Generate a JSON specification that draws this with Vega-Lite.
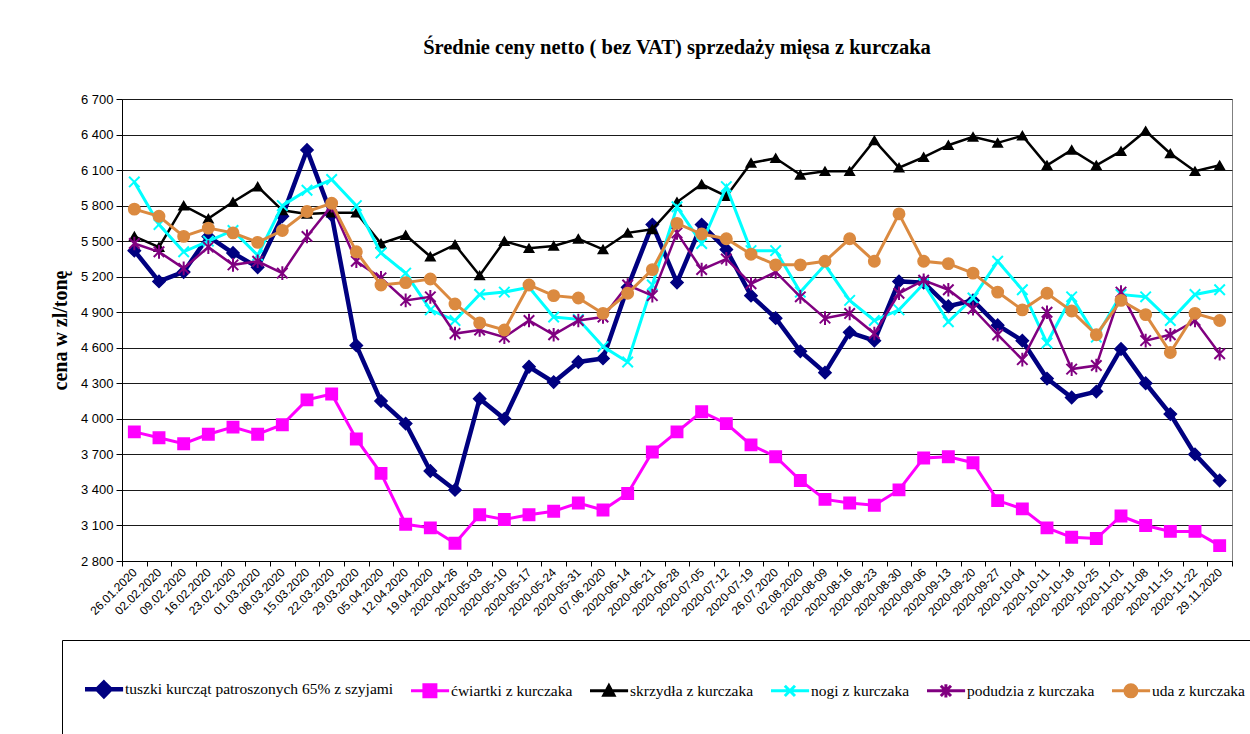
{
  "$schema": "https://vega.github.io/schema/vega-lite/v6.json",
  "width": 1110,
  "height": 462,
  "autosize": {"type": "none"},
  "padding": {"left": 122, "top": 99, "right": 18, "bottom": 173},
  "background": "white",
  "title": {
    "text": "Średnie ceny netto ( bez VAT) sprzedaży mięsa z kurczaka",
    "font": "Liberation Serif",
    "fontSize": 20.5,
    "fontWeight": "bold",
    "color": "black",
    "anchor": "middle",
    "offset": 35
  },
  "config": {
    "view": {"stroke": "#808080", "strokeWidth": 1},
    "legend": {
      "orient": "none",
      "legendX": -60,
      "legendY": 541,
      "direction": "horizontal",
      "columns": 6,
      "columnPadding": 11,
      "padding": 20,
      "strokeColor": "black",
      "fillColor": "white",
      "labelFont": "Liberation Serif",
      "labelFontSize": 15.5,
      "labelColor": "black",
      "labelLimit": 0,
      "labelOffset": 0,
      "symbolSize": 3600
    }
  },
  "data": {
    "values": [
      {"d": "26.01.2020", "tuszki kurcząt patroszonych 65% z szyjami": 5420, "ćwiartki z kurczaka": 3890, "skrzydła z kurczaka": 5540, "nogi z kurczaka": 6000, "podudzia z kurczaka": 5480, "uda z kurczaka": 5770},
      {"d": "02.02.2020", "tuszki kurcząt patroszonych 65% z szyjami": 5160, "ćwiartki z kurczaka": 3840, "skrzydła z kurczaka": 5450, "nogi z kurczaka": 5640, "podudzia z kurczaka": 5410, "uda z kurczaka": 5710},
      {"d": "09.02.2020", "tuszki kurcząt patroszonych 65% z szyjami": 5240, "ćwiartki z kurczaka": 3790, "skrzydła z kurczaka": 5800, "nogi z kurczaka": 5410, "podudzia z kurczaka": 5270, "uda z kurczaka": 5540},
      {"d": "16.02.2020", "tuszki kurcząt patroszonych 65% z szyjami": 5540, "ćwiartki z kurczaka": 3870, "skrzydła z kurczaka": 5690, "nogi z kurczaka": 5500, "podudzia z kurczaka": 5450, "uda z kurczaka": 5610},
      {"d": "23.02.2020", "tuszki kurcząt patroszonych 65% z szyjami": 5400, "ćwiartki z kurczaka": 3930, "skrzydła z kurczaka": 5830, "nogi z kurczaka": 5590, "podudzia z kurczaka": 5300, "uda z kurczaka": 5570},
      {"d": "01.03.2020", "tuszki kurcząt patroszonych 65% z szyjami": 5280, "ćwiartki z kurczaka": 3870, "skrzydła z kurczaka": 5960, "nogi z kurczaka": 5380, "podudzia z kurczaka": 5330, "uda z kurczaka": 5490},
      {"d": "08.03.2020", "tuszki kurcząt patroszonych 65% z szyjami": 5710, "ćwiartki z kurczaka": 3950, "skrzydła z kurczaka": 5760, "nogi z kurczaka": 5800, "podudzia z kurczaka": 5230, "uda z kurczaka": 5590},
      {"d": "15.03.2020", "tuszki kurcząt patroszonych 65% z szyjami": 6270, "ćwiartki z kurczaka": 4160, "skrzydła z kurczaka": 5730, "nogi z kurczaka": 5930, "podudzia z kurczaka": 5540, "uda z kurczaka": 5750},
      {"d": "22.03.2020", "tuszki kurcząt patroszonych 65% z szyjami": 5720, "ćwiartki z kurczaka": 4210, "skrzydła z kurczaka": 5740, "nogi z kurczaka": 6020, "podudzia z kurczaka": 5800, "uda z kurczaka": 5820},
      {"d": "29.03.2020", "tuszki kurcząt patroszonych 65% z szyjami": 4620, "ćwiartki z kurczaka": 3830, "skrzydła z kurczaka": 5740, "nogi z kurczaka": 5800, "podudzia z kurczaka": 5330, "uda z kurczaka": 5410},
      {"d": "05.04.2020", "tuszki kurcząt patroszonych 65% z szyjami": 4150, "ćwiartki z kurczaka": 3540, "skrzydła z kurczaka": 5480, "nogi z kurczaka": 5400, "podudzia z kurczaka": 5190, "uda z kurczaka": 5130},
      {"d": "12.04.2020", "tuszki kurcząt patroszonych 65% z szyjami": 3960, "ćwiartki z kurczaka": 3110, "skrzydła z kurczaka": 5550, "nogi z kurczaka": 5230, "podudzia z kurczaka": 5000, "uda z kurczaka": 5150},
      {"d": "19.04.2020", "tuszki kurcząt patroszonych 65% z szyjami": 3560, "ćwiartki z kurczaka": 3080, "skrzydła z kurczaka": 5370, "nogi z kurczaka": 4920, "podudzia z kurczaka": 5030, "uda z kurczaka": 5180},
      {"d": "2020-04-26", "tuszki kurcząt patroszonych 65% z szyjami": 3400, "ćwiartki z kurczaka": 2950, "skrzydła z kurczaka": 5470, "nogi z kurczaka": 4830, "podudzia z kurczaka": 4720, "uda z kurczaka": 4970},
      {"d": "2020-05-03", "tuszki kurcząt patroszonych 65% z szyjami": 4170, "ćwiartki z kurczaka": 3190, "skrzydła z kurczaka": 5210, "nogi z kurczaka": 5050, "podudzia z kurczaka": 4750, "uda z kurczaka": 4810},
      {"d": "2020-05-10", "tuszki kurcząt patroszonych 65% z szyjami": 4000, "ćwiartki z kurczaka": 3150, "skrzydła z kurczaka": 5500, "nogi z kurczaka": 5070, "podudzia z kurczaka": 4690, "uda z kurczaka": 4750},
      {"d": "2020-05-17", "tuszki kurcząt patroszonych 65% z szyjami": 4440, "ćwiartki z kurczaka": 3190, "skrzydła z kurczaka": 5440, "nogi z kurczaka": 5110, "podudzia z kurczaka": 4830, "uda z kurczaka": 5130},
      {"d": "2020-05-24", "tuszki kurcząt patroszonych 65% z szyjami": 4310, "ćwiartki z kurczaka": 3220, "skrzydła z kurczaka": 5460, "nogi z kurczaka": 4860, "podudzia z kurczaka": 4710, "uda z kurczaka": 5040},
      {"d": "2020-05-31", "tuszki kurcząt patroszonych 65% z szyjami": 4480, "ćwiartki z kurczaka": 3290, "skrzydła z kurczaka": 5520, "nogi z kurczaka": 4840, "podudzia z kurczaka": 4830, "uda z kurczaka": 5020},
      {"d": "07.06.2020", "tuszki kurcząt patroszonych 65% z szyjami": 4510, "ćwiartki z kurczaka": 3230, "skrzydła z kurczaka": 5430, "nogi z kurczaka": 4610, "podudzia z kurczaka": 4860, "uda z kurczaka": 4890},
      {"d": "2020-06-14", "tuszki kurcząt patroszonych 65% z szyjami": 5110, "ćwiartki z kurczaka": 3370, "skrzydła z kurczaka": 5570, "nogi z kurczaka": 4480, "podudzia z kurczaka": 5130, "uda z kurczaka": 5060},
      {"d": "2020-06-21", "tuszki kurcząt patroszonych 65% z szyjami": 5640, "ćwiartki z kurczaka": 3720, "skrzydła z kurczaka": 5600, "nogi z kurczaka": 5130, "podudzia z kurczaka": 5040, "uda z kurczaka": 5260},
      {"d": "2020-06-28", "tuszki kurcząt patroszonych 65% z szyjami": 5150, "ćwiartki z kurczaka": 3890, "skrzydła z kurczaka": 5830, "nogi z kurczaka": 5790, "podudzia z kurczaka": 5570, "uda z kurczaka": 5650},
      {"d": "2020-07-05", "tuszki kurcząt patroszonych 65% z szyjami": 5640, "ćwiartki z kurczaka": 4060, "skrzydła z kurczaka": 5980, "nogi z kurczaka": 5480, "podudzia z kurczaka": 5260, "uda z kurczaka": 5560},
      {"d": "2020-07-12", "tuszki kurcząt patroszonych 65% z szyjami": 5430, "ćwiartki z kurczaka": 3960, "skrzydła z kurczaka": 5880, "nogi z kurczaka": 5960, "podudzia z kurczaka": 5350, "uda z kurczaka": 5520},
      {"d": "2020-07-19", "tuszki kurcząt patroszonych 65% z szyjami": 5040, "ćwiartki z kurczaka": 3780, "skrzydła z kurczaka": 6160, "nogi z kurczaka": 5420, "podudzia z kurczaka": 5140, "uda z kurczaka": 5390},
      {"d": "26.07.2020", "tuszki kurcząt patroszonych 65% z szyjami": 4850, "ćwiartki z kurczaka": 3680, "skrzydła z kurczaka": 6200, "nogi z kurczaka": 5420, "podudzia z kurczaka": 5240, "uda z kurczaka": 5300},
      {"d": "02.08.2020", "tuszki kurcząt patroszonych 65% z szyjami": 4570, "ćwiartki z kurczaka": 3480, "skrzydła z kurczaka": 6060, "nogi z kurczaka": 5070, "podudzia z kurczaka": 5030, "uda z kurczaka": 5300},
      {"d": "2020-08-09", "tuszki kurcząt patroszonych 65% z szyjami": 4390, "ćwiartki z kurczaka": 3320, "skrzydła z kurczaka": 6090, "nogi z kurczaka": 5300, "podudzia z kurczaka": 4850, "uda z kurczaka": 5330},
      {"d": "2020-08-16", "tuszki kurcząt patroszonych 65% z szyjami": 4730, "ćwiartki z kurczaka": 3290, "skrzydła z kurczaka": 6090, "nogi z kurczaka": 5000, "podudzia z kurczaka": 4890, "uda z kurczaka": 5520},
      {"d": "2020-08-23", "tuszki kurcząt patroszonych 65% z szyjami": 4660, "ćwiartki z kurczaka": 3270, "skrzydła z kurczaka": 6350, "nogi z kurczaka": 4830, "podudzia z kurczaka": 4720, "uda z kurczaka": 5330},
      {"d": "2020-08-30", "tuszki kurcząt patroszonych 65% z szyjami": 5160, "ćwiartki z kurczaka": 3400, "skrzydła z kurczaka": 6120, "nogi z kurczaka": 4920, "podudzia z kurczaka": 5060, "uda z kurczaka": 5730},
      {"d": "2020-09-06", "tuszki kurcząt patroszonych 65% z szyjami": 5150, "ćwiartki z kurczaka": 3670, "skrzydła z kurczaka": 6210, "nogi z kurczaka": 5140, "podudzia z kurczaka": 5170, "uda z kurczaka": 5330},
      {"d": "2020-09-13", "tuszki kurcząt patroszonych 65% z szyjami": 4950, "ćwiartki z kurczaka": 3680, "skrzydła z kurczaka": 6310, "nogi z kurczaka": 4820, "podudzia z kurczaka": 5090, "uda z kurczaka": 5310},
      {"d": "2020-09-20", "tuszki kurcząt patroszonych 65% z szyjami": 5000, "ćwiartki z kurczaka": 3630, "skrzydła z kurczaka": 6380, "nogi z kurczaka": 5020, "podudzia z kurczaka": 4930, "uda z kurczaka": 5230},
      {"d": "2020-09-27", "tuszki kurcząt patroszonych 65% z szyjami": 4790, "ćwiartki z kurczaka": 3310, "skrzydła z kurczaka": 6330, "nogi z kurczaka": 5330, "podudzia z kurczaka": 4710, "uda z kurczaka": 5070},
      {"d": "2020-10-04", "tuszki kurcząt patroszonych 65% z szyjami": 4660, "ćwiartki z kurczaka": 3240, "skrzydła z kurczaka": 6390, "nogi z kurczaka": 5090, "podudzia z kurczaka": 4500, "uda z kurczaka": 4920},
      {"d": "2020-10-11", "tuszki kurcząt patroszonych 65% z szyjami": 4340, "ćwiartki z kurczaka": 3080, "skrzydła z kurczaka": 6140, "nogi z kurczaka": 4640, "podudzia z kurczaka": 4900, "uda z kurczaka": 5060},
      {"d": "2020-10-18", "tuszki kurcząt patroszonych 65% z szyjami": 4180, "ćwiartki z kurczaka": 3000, "skrzydła z kurczaka": 6270, "nogi z kurczaka": 5030, "podudzia z kurczaka": 4420, "uda z kurczaka": 4910},
      {"d": "2020-10-25", "tuszki kurcząt patroszonych 65% z szyjami": 4230, "ćwiartki z kurczaka": 2990, "skrzydła z kurczaka": 6140, "nogi z kurczaka": 4690, "podudzia z kurczaka": 4450, "uda z kurczaka": 4710},
      {"d": "2020-11-01", "tuszki kurcząt patroszonych 65% z szyjami": 4590, "ćwiartki z kurczaka": 3180, "skrzydła z kurczaka": 6260, "nogi z kurczaka": 5050, "podudzia z kurczaka": 5070, "uda z kurczaka": 5000},
      {"d": "2020-11-08", "tuszki kurcząt patroszonych 65% z szyjami": 4300, "ćwiartki z kurczaka": 3100, "skrzydła z kurczaka": 6430, "nogi z kurczaka": 5030, "podudzia z kurczaka": 4660, "uda z kurczaka": 4880},
      {"d": "2020-11-15", "tuszki kurcząt patroszonych 65% z szyjami": 4040, "ćwiartki z kurczaka": 3050, "skrzydła z kurczaka": 6240, "nogi z kurczaka": 4830, "podudzia z kurczaka": 4710, "uda z kurczaka": 4560},
      {"d": "2020-11-22", "tuszki kurcząt patroszonych 65% z szyjami": 3700, "ćwiartki z kurczaka": 3050, "skrzydła z kurczaka": 6090, "nogi z kurczaka": 5050, "podudzia z kurczaka": 4830, "uda z kurczaka": 4890},
      {"d": "29.11.2020", "tuszki kurcząt patroszonych 65% z szyjami": 3480, "ćwiartki z kurczaka": 2930, "skrzydła z kurczaka": 6140, "nogi z kurczaka": 5090, "podudzia z kurczaka": 4550, "uda z kurczaka": 4830}
    ]
  },
  "transform": [
    {"fold": ["tuszki kurcząt patroszonych 65% z szyjami", "ćwiartki z kurczaka", "skrzydła z kurczaka", "nogi z kurczaka", "podudzia z kurczaka", "uda z kurczaka"], "as": ["series", "value"]}
  ],
  "encoding": {
    "x": {
      "field": "d",
      "type": "ordinal",
      "sort": null,
      "scale": {"type": "band", "paddingInner": 0, "paddingOuter": 0},
      "axis": {
        "title": null,
        "labelAngle": -45,
        "labelAlign": "right",
        "labelBaseline": "middle",
        "labelFont": "Liberation Sans",
        "labelFontSize": 12,
        "labelColor": "black",
        "labelPadding": 4,
        "labelOverlap": false,
        "tickBand": "extent",
        "tickSize": 5,
        "tickColor": "black",
        "domainColor": "black",
        "grid": false
      }
    },
    "y": {
      "field": "value",
      "type": "quantitative",
      "scale": {"domain": [2800, 6700], "nice": false, "zero": false},
      "axis": {
        "values": [2800, 3100, 3400, 3700, 4000, 4300, 4600, 4900, 5200, 5500, 5800, 6100, 6400, 6700],
        "labelExpr": "replace(format(datum.value, ',d'), ',', ' ')",
        "labelFont": "Liberation Sans",
        "labelFontSize": 13,
        "labelColor": "black",
        "labelPadding": 3,
        "tickSize": 6,
        "tickColor": "black",
        "domainColor": "black",
        "grid": true,
        "gridColor": "#1a1a1a",
        "gridWidth": 1,
        "title": "cena w zl/tonę",
        "titleFont": "Liberation Serif",
        "titleFontSize": 20,
        "titleFontWeight": "bold",
        "titleColor": "black",
        "titlePadding": 10
      }
    },
    "color": {
      "field": "series",
      "type": "nominal",
      "scale": {
        "domain": ["tuszki kurcząt patroszonych 65% z szyjami", "ćwiartki z kurczaka", "skrzydła z kurczaka", "nogi z kurczaka", "podudzia z kurczaka", "uda z kurczaka"],
        "range": ["#000080", "#FF00FF", "#000000", "#00FFFF", "#800080", "#DB8A40"]
      },
      "legend": {
        "title": null,
        "encode": {
          "symbols": {
            "update": {
              "shape": {"signal": "['M0.1,0.97H1.37M0.73,0.75L0.95,0.97L0.73,1.19L0.51,0.97ZM0.1,1.85', 'M0.1,0.97H1.37M0.53,0.77H0.93V1.17H0.53ZM0.1,1.85', 'M0.1,0.97H1.37M0.73,0.8L0.9,1.12L0.56,1.12ZM0.1,1.85', 'M0.1,0.97H1.37M0.56,0.8L0.9,1.14M0.56,1.14L0.9,0.8M0.1,1.85', 'M0.1,0.97H1.37M0.56,0.8L0.9,1.14M0.56,1.14L0.9,0.8M0.73,0.75V1.19M0.1,1.85', 'M0.1,0.97H1.37M0.93,0.97A0.2,0.2,0,1,1,0.53,0.97A0.2,0.2,0,1,1,0.93,0.97ZM0.1,1.85'][indexof(['tuszki kurcząt patroszonych 65% z szyjami', 'ćwiartki z kurczaka', 'skrzydła z kurczaka', 'nogi z kurczaka', 'podudzia z kurczaka', 'uda z kurczaka'], datum.value)]"},
              "fill": {"signal": "scale('color', datum.value)"},
              "stroke": {"signal": "scale('color', datum.value)"},
              "strokeWidth": {"signal": "[4.5, 3, 3, 3, 3, 3][indexof(['tuszki kurcząt patroszonych 65% z szyjami', 'ćwiartki z kurczaka', 'skrzydła z kurczaka', 'nogi z kurczaka', 'podudzia z kurczaka', 'uda z kurczaka'], datum.value)]"},
              "size": {"value": 3600},
              "opacity": {"value": 1},
              "fillOpacity": {"value": 1},
              "strokeOpacity": {"value": 1}
            }
          },
          "labels": {
            "update": {
              "dx": {"value": 43},
              "dy": {"value": 29}
            }
          }
        }
      }
    }
  },
  "layer": [
    {"transform": [{"filter": {"field": "series", "equal": "tuszki kurcząt patroszonych 65% z szyjami"}}], "mark": {"type": "line", "strokeWidth": 4.5}},
    {"transform": [{"filter": {"field": "series", "equal": "tuszki kurcząt patroszonych 65% z szyjami"}}], "mark": {"type": "point", "shape": "diamond", "size": 150, "filled": true, "opacity": 1, "stroke": "#000080", "strokeWidth": 1.5}},
    {"transform": [{"filter": {"field": "series", "equal": "ćwiartki z kurczaka"}}], "mark": {"type": "line", "strokeWidth": 3}},
    {"transform": [{"filter": {"field": "series", "equal": "ćwiartki z kurczaka"}}], "mark": {"type": "point", "shape": "square", "size": 130, "filled": true, "opacity": 1, "stroke": "#FF00FF", "strokeWidth": 1.5}},
    {"transform": [{"filter": {"field": "series", "equal": "skrzydła z kurczaka"}}], "mark": {"type": "line", "strokeWidth": 2.5}},
    {"transform": [{"filter": {"field": "series", "equal": "skrzydła z kurczaka"}}], "mark": {"type": "point", "shape": "triangle-up", "size": 90, "filled": true, "opacity": 1, "stroke": "#000000", "strokeWidth": 1.5}},
    {"transform": [{"filter": {"field": "series", "equal": "nogi z kurczaka"}}], "mark": {"type": "line", "strokeWidth": 3}},
    {"transform": [{"filter": {"field": "series", "equal": "nogi z kurczaka"}}], "mark": {"type": "point", "shape": "M-1,-1L1,1M-1,1L1,-1", "size": 110, "filled": false, "opacity": 1, "strokeWidth": 2}},
    {"transform": [{"filter": {"field": "series", "equal": "podudzia z kurczaka"}}], "mark": {"type": "line", "strokeWidth": 2.5}},
    {"transform": [{"filter": {"field": "series", "equal": "podudzia z kurczaka"}}], "mark": {"type": "point", "shape": "M-1,-1L1,1M-1,1L1,-1M0,-1.3V1.3", "size": 110, "filled": false, "opacity": 1, "strokeWidth": 2}},
    {"transform": [{"filter": {"field": "series", "equal": "uda z kurczaka"}}], "mark": {"type": "line", "strokeWidth": 3}},
    {"transform": [{"filter": {"field": "series", "equal": "uda z kurczaka"}}], "mark": {"type": "point", "shape": "circle", "size": 130, "filled": true, "opacity": 1, "stroke": "#DB8A40", "strokeWidth": 1.5}}
  ]
}
